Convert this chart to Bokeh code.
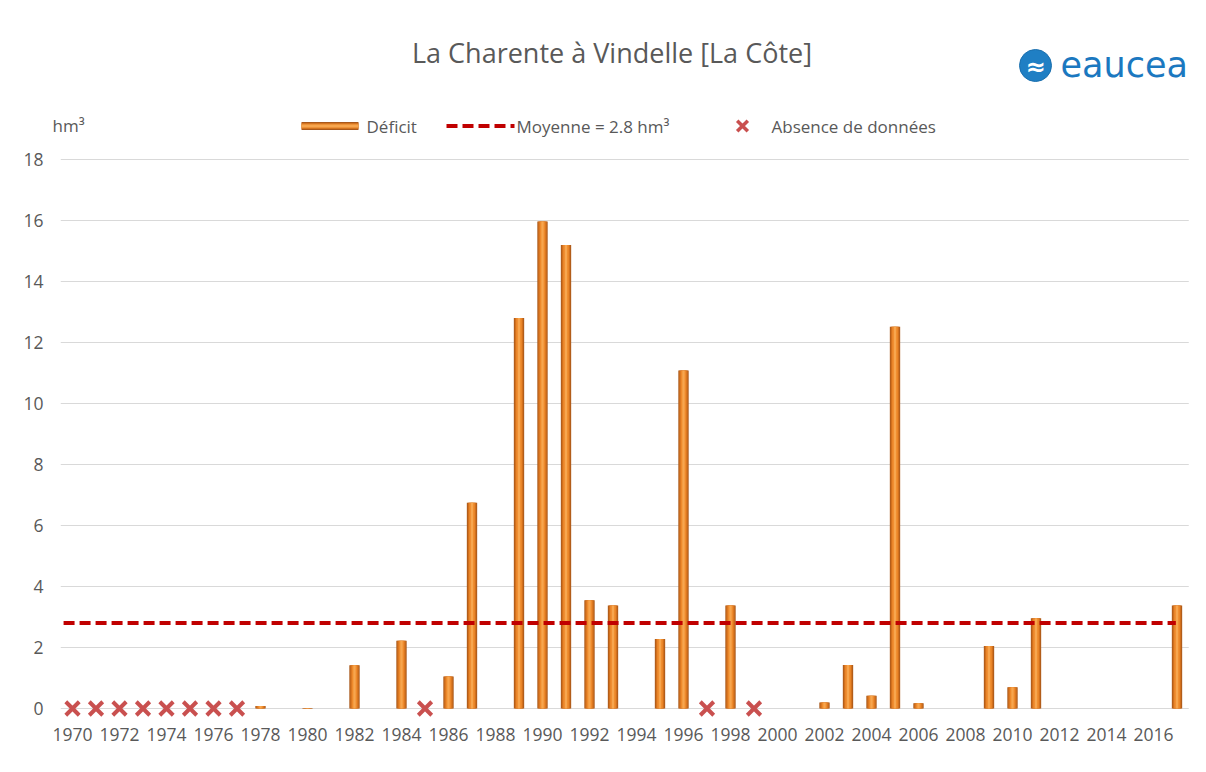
import math
from bokeh.plotting import figure
from bokeh.models import Range1d, FixedTicker, Label
from bokeh.embed import file_html
from bokeh.resources import INLINE

# ---------------- data ----------------
years = list(range(1970, 2018))
NA = float("nan")
deficit = [NA, NA, NA, NA, NA, NA, NA, NA,          # 1970-1977
           0.08, 0.0, 0.02, 0.0, 1.42, 0.0, 2.22, NA,  # 1978-1985
           1.05, 6.75, 0.0, 12.8, 15.97, 15.2, 3.55, 3.38,  # 1986-1993
           0.0, 2.28, 11.08, NA, 3.38, NA, 0.0, 0.0,   # 1994-2001
           0.2, 1.43, 0.42, 12.52, 0.17, 0.0, 0.0, 2.05,  # 2002-2009
           0.7, 2.96, 0.0, 0.0, 0.0, 0.0, 0.0, 3.38]   # 2010-2017
moyenne = 2.8
y_ticks = list(range(0, 19, 2))
x_ticks = years[::2]
absence = [y for y, d in zip(years, deficit) if math.isnan(d)]
absence_zero = [0.0] * len(absence)

title_text = "La Charente à Vindelle [La Côte]"
unit_text = "hm³"
legend_labels = ["Déficit", "Moyenne = 2.8 hm³", "Absence de données"]

# ---------------- geometry helpers (pixel -> data for decorations) ----------------
PX_X0, PX_PER_YEAR = 72.0, 23.5      # image x of first category, px per category
PX_Y0, PX_PER_UNIT = 708.0, 30.5     # image y of value 0, px per unit


def dx(px):
    return years[0] + (px - PX_X0) / PX_PER_YEAR


def dy(py):
    return (PX_Y0 - py) / PX_PER_UNIT


GREY = "#595959"
FONT = "Open Sans"
FRAME_L, FRAME_R, FRAME_B = 50, 1191, 724
RB = 12
H = 766

p = figure(width=FRAME_R + RB, height=H,
           x_range=Range1d(dx(FRAME_L), dx(FRAME_R)),
           y_range=Range1d(dy(FRAME_B), dy(0)),
           output_backend="svg", toolbar_location=None,
           min_border_left=FRAME_L, min_border_right=RB,
           min_border_top=0, min_border_bottom=H - FRAME_B,
           background_fill_color="white", border_fill_color="white")
p.outline_line_color = None
p.title.visible = False

# grid lines (horizontal, only across the category span)
p.xgrid.visible = False
p.ygrid.visible = False
n = len(y_ticks)
p.segment(x0=[years[0] - 0.5] * n, y0=y_ticks, x1=[years[-1] + 0.5] * n, y1=y_ticks,
          line_color="#d9d9d9", line_width=1)

# axes
p.yaxis.ticker = FixedTicker(ticks=y_ticks)
p.xaxis.ticker = FixedTicker(ticks=x_ticks)
for ax in (p.xaxis[0], p.yaxis[0]):
    ax.axis_line_color = None
    ax.major_tick_line_color = None
    ax.minor_tick_line_color = None
    ax.major_tick_out = 0
    ax.major_tick_in = 0
    ax.major_label_text_font = FONT
    ax.major_label_text_font_size = "17.5px"
    ax.major_label_text_color = GREY
p.yaxis.major_label_standoff = 7
p.xaxis.major_label_standoff = 3

# bars: layered to mimic a cylinder shading
layers = [(0.44, "#a9581a"), (0.36, "#d2701c"), (0.24, "#ee8a2c"), (0.10, "#f7a64e")]
for w, c in layers:
    p.vbar(x=years, top=deficit, bottom=0, width=w, fill_color=c, line_color=None)

# mean line
p.line(x=[years[0] - 0.38, years[-1] - 0.05], y=[moyenne, moyenne],
       line_color="#c00000", line_width=4, line_dash="11 5")

# missing data crosses
p.scatter(x=absence, y=absence_zero, marker="x", size=19,
          line_color="#c9504f", line_width=4)

# ---------------- title, unit, logo ----------------
p.add_layout(Label(x=dx(611.5), y=dy(52), text=title_text, text_align="center",
                   text_baseline="middle", text_font=FONT, text_font_size="27px",
                   text_color=GREY))
p.add_layout(Label(x=dx(52), y=dy(125), text=unit_text, text_align="left",
                   text_baseline="middle", text_font=FONT, text_font_size="17px",
                   text_color=GREY))

# logo
p.scatter(x=[dx(1035)], y=[dy(65)], marker="circle", size=32,
          fill_color="#1f7fc4", line_color="#1a6fae", line_width=1)
p.add_layout(Label(x=dx(1035), y=dy(66), text="≈", text_align="center",
                   text_baseline="middle", text_font="DejaVu Sans",
                   text_font_size="24px", text_color="white", text_font_style="bold"))
p.add_layout(Label(x=dx(1060), y=dy(64), text="eaucea", text_align="left",
                   text_baseline="middle", text_font="DejaVu Sans",
                   text_font_size="35px", text_color="#1b78c0"))

# ---------------- legend (manual) ----------------
ly = dy(125.5)
sw_l, sw_r = dx(301), dx(358)
sw_h = 8 / PX_PER_UNIT
sw_layers = [(1.0, "#a9581a"), (0.7, "#e07c22"), (0.35, "#f7a64e")]
for f, c in sw_layers:
    p.rect(x=[(sw_l + sw_r) / 2], y=[ly], width=sw_r - sw_l, height=sw_h * f,
           fill_color=c, line_color=None)
p.add_layout(Label(x=dx(366), y=ly, text=legend_labels[0], text_align="left",
                   text_baseline="middle", text_font=FONT, text_font_size="17px",
                   text_color=GREY))
p.line(x=[dx(446), dx(514)], y=[ly, ly], line_color="#c00000", line_width=4,
       line_dash="11 5")
p.add_layout(Label(x=dx(516), y=ly, text=legend_labels[1], text_align="left",
                   text_baseline="middle", text_font=FONT, text_font_size="17px",
                   text_color=GREY))
p.scatter(x=[dx(742)], y=[ly], marker="x", size=15, line_color="#c9504f", line_width=3.5)
p.add_layout(Label(x=dx(771), y=ly, text=legend_labels[2], text_align="left",
                   text_baseline="middle", text_font=FONT, text_font_size="17px",
                   text_color=GREY))

open("out.html", "w").write(file_html(p, INLINE))
